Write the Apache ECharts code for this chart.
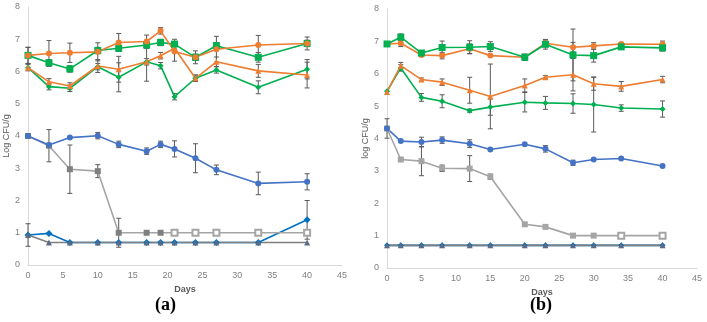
<!DOCTYPE html>
<html>
<head>
<meta charset="utf-8">
<script src="https://cdn.jsdelivr.net/npm/echarts@6/dist/echarts.min.js"></script>
<style>
  html, body { margin: 0; padding: 0; background: #fff; }
  #main { width: 707px; height: 322px; }
</style>
</head>
<body>
<div id="main"></div>
<script>
// sampling days
const daysA = [0, 3, 6, 10, 13, 17, 19, 21, 24, 27, 33, 40]
const daysB = [0, 2, 5, 8, 12, 15, 20, 23, 27, 30, 34, 40]
const yTicks = [0, 1, 2, 3, 4, 5, 6, 7, 8]
const xTicks = [0, 5, 10, 15, 20, 25, 30, 35, 40, 45]

// panel (a) values, log CFU/g
const orangeCircA = [6.5, 6.56, 6.58, 6.61, 6.9, 6.93, 7.26, 6.62, 6.44, 6.69, 6.82, 6.87]
const greenSqA = [6.5, 6.27, 6.08, 6.65, 6.72, 6.82, 6.9, 6.85, 6.44, 6.8, 6.44, 6.87]
const orangeTriA = [6.12, 5.68, 5.55, 6.17, 6.07, 6.3, 6.49, 6.72, 5.79, 6.3, 6.02, 5.89]
const greenStarA = [6.12, 5.53, 5.48, 6.15, 5.82, 6.3, 6.18, 5.22, 5.79, 6.05, 5.51, 6.07]
const blueA = [4.0, 3.72, 3.95, 4.01, 3.74, 3.53, 3.74, 3.6, 3.31, 2.95, 2.53, 2.58]
const grayA = [4.0, 3.7, 2.97, 2.91, 1.0, 1.0, 1.0, 1.0, 1.0, 1.0, 1.0, 1.0]
const brightBlueA = [0.93, 0.98, 0.7, 0.7, 0.7, 0.7, 0.7, 0.7, 0.7, 0.7, 0.7, 1.4]
const grayTriA = [0.93, 0.7, 0.7, 0.7, 0.7, 0.7, 0.7, 0.7, 0.7, 0.7, 0.7, 0.7]

// panel (a) error half widths
const orangeCircAErr = [0.25, 0.4, 0.3, 0.28, 0.28, 0.2, 0.1, 0.3, 0.2, 0.4, 0.3, 0.2]
const greenSqAErr = [0.25, 0.1, 0.1, 0.1, 0.1, 0.1, 0.1, 0.15, 0.1, 0.1, 0.15, 0.1]
const orangeTriAErr = [0.1, 0.1, 0.1, 0.2, 0.4, 0.6, 0.1, 0.1, 0.1, 0.15, 0.2, 0.4]
const greenStarAErr = [0, 0.1, 0.1, 0.1, 0.45, 0.1, 0.1, 0.1, 0.1, 0.1, 0.2, 0.3]
const blueAErr = [0, 0, 0, 0.1, 0.1, 0.1, 0.1, 0.25, 0.45, 0.15, 0.35, 0.25]
const grayAErr = [0, 0.5, 0.75, 0.2, 0.45, 0, 0, 0, 0, 0, 0, 0]
const brightBlueAErr = [0.35, 0, 0, 0, 0, 0, 0, 0, 0, 0, 0, 0.6]

// panel (b) values
const orangeCircB = [6.92, 6.94, 6.58, 6.56, 6.77, 6.56, 6.51, 6.94, 6.82, 6.86, 6.92, 6.91]
const greenSqB = [6.92, 7.13, 6.64, 6.81, 6.82, 6.84, 6.51, 6.91, 6.58, 6.56, 6.83, 6.8]
const orangeTriB = [5.44, 6.25, 5.82, 5.74, 5.49, 5.3, 5.64, 5.89, 5.97, 5.69, 5.61, 5.82]
const greenStarB = [5.46, 6.18, 5.27, 5.15, 4.86, 4.97, 5.12, 5.1, 5.08, 5.05, 4.94, 4.91]
const blueB = [4.31, 3.92, 3.89, 3.95, 3.84, 3.66, 3.82, 3.68, 3.25, 3.35, 3.38, 3.15]
const grayB = [4.31, 3.35, 3.3, 3.08, 3.07, 2.82, 1.35, 1.27, 1.0, 1.0, 1.0, 1.0]
const brightBlueB = [0.7, 0.7, 0.7, 0.7, 0.7, 0.7, 0.7, 0.7, 0.7, 0.7, 0.7, 0.7]
const grayTriB = [0.7, 0.7, 0.7, 0.7, 0.7, 0.7, 0.7, 0.7, 0.7, 0.7, 0.7, 0.7]

// panel (b) error half widths
const orangeCircBErr = [0, 0.1, 0, 0.1, 0.15, 0, 0, 0.1, 0.15, 0.1, 0.05, 0.1]
const greenSqBErr = [0, 0.1, 0.07, 0.2, 0.2, 0.15, 0.1, 0.15, 0.8, 0.2, 0.05, 0.1]
const orangeTriBErr = [0, 0.1, 0.05, 0.1, 0.4, 1.0, 0.2, 0.05, 0.5, 0.2, 0.15, 0.1]
const greenStarBErr = [0, 0.1, 0.12, 0.2, 0.05, 0.25, 0.3, 0.2, 0.3, 0.85, 0.1, 0.25]
const blueBErr = [0, 0, 0.15, 0.1, 0.12, 0, 0, 0.1, 0.08, 0, 0, 0]
const grayBErr = [0.3, 0.05, 0.45, 0.1, 0.4, 0.08, 0, 0, 0, 0, 0, 0]

const ORANGE = '#ed7d31'
const GREEN = '#00b050'
const BLUE = '#4472c4'
const BRIGHT = '#0070c0'
const GRAY = '#a5a5a5'
const DARK = '#7f7f7f'
const TRI = '#5b6b84'

function line(idx, days, vals, color, symbol, size, opts) {
  opts = opts || {}
  return {
    type: 'line',
    xAxisIndex: idx,
    yAxisIndex: idx,
    data: days.map((d, i) => {
      const p = { value: [d, vals[i]] }
      if (opts.emptyFrom !== undefined && i >= opts.emptyFrom) {
        p.symbol = 'emptyRect'
        p.itemStyle = { color: GRAY, borderColor: GRAY }
      }
      return p
    }),
    symbol: symbol,
    symbolSize: size,
    lineStyle: { color: opts.lineColor || color, width: 1.6 },
    itemStyle: { color: color, borderWidth: 1 },
    animation: false,
    z: opts.z || 3
  }
}

function errBars(idx, days, vals, errs) {
  const data = []
  days.forEach((d, i) => {
    if (errs[i] > 0) data.push([d, vals[i] - errs[i], vals[i] + errs[i]])
  })
  return {
    type: 'custom',
    xAxisIndex: idx,
    yAxisIndex: idx,
    data: data,
    animation: false,
    z: 2,
    renderItem: function (params, api) {
      const lo = api.coord([api.value(0), api.value(1)])
      const hi = api.coord([api.value(0), api.value(2)])
      const w = 2.5
      const st = { stroke: '#595959', lineWidth: 1 }
      return {
        type: 'group',
        children: [
          { type: 'line', shape: { x1: lo[0], y1: lo[1], x2: hi[0], y2: hi[1] }, style: st },
          { type: 'line', shape: { x1: lo[0] - w, y1: lo[1], x2: lo[0] + w, y2: lo[1] }, style: st },
          { type: 'line', shape: { x1: hi[0] - w, y1: hi[1], x2: hi[0] + w, y2: hi[1] }, style: st }
        ]
      }
    }
  }
}

function xAxis(idx) {
  return {
    type: 'value', gridIndex: idx, min: 0, max: 45, interval: 5,
    name: 'Days', nameLocation: 'middle', nameGap: 16,
    nameTextStyle: { fontSize: 9, fontWeight: 'bold', color: '#595959', fontFamily: 'Liberation Sans' },
    axisLine: { lineStyle: { color: '#d9d9d9' } },
    axisTick: { show: false },
    splitLine: { show: false },
    axisLabel: { fontSize: 9, color: '#7f7f7f', margin: 6, fontFamily: 'Liberation Sans' }
  }
}

function yAxis(idx, name) {
  return {
    type: 'value', gridIndex: idx, min: 0, max: 8, interval: 1,
    name: name, nameLocation: 'middle', nameGap: 15,
    nameTextStyle: { fontSize: 9, color: '#595959', fontFamily: 'Liberation Sans' },
    axisLine: { show: true, lineStyle: { color: '#d9d9d9' } },
    axisTick: { show: false },
    splitLine: { show: false },
    axisLabel: { fontSize: 9, color: '#7f7f7f', margin: 8, fontFamily: 'Liberation Sans' }
  }
}

const chart = echarts.init(document.getElementById('main'))
chart.setOption({
  backgroundColor: '#fff',
  grid: [
    { left: 28, top: 7, width: 314, height: 258 },
    { left: 387, top: 9, width: 310, height: 259 }
  ],
  xAxis: [xAxis(0), xAxis(1)],
  yAxis: [yAxis(0, 'Log CFU/g'), yAxis(1, 'log CFU/g')],
  graphic: [
    { type: 'text', left: 155, top: 296, style: { text: '(a)', fontSize: 18, fontWeight: 'bold', fontFamily: 'Liberation Serif', fill: '#000' } },
    { type: 'text', left: 530, top: 296, style: { text: '(b)', fontSize: 18, fontWeight: 'bold', fontFamily: 'Liberation Serif', fill: '#000' } }
  ],
  series: [
    errBars(0, daysA, orangeCircA, orangeCircAErr),
    errBars(0, daysA, greenSqA, greenSqAErr),
    errBars(0, daysA, orangeTriA, orangeTriAErr),
    errBars(0, daysA, greenStarA, greenStarAErr),
    errBars(0, daysA, blueA, blueAErr),
    errBars(0, daysA, grayA, grayAErr),
    errBars(0, daysA, brightBlueA, brightBlueAErr),
    line(0, daysA, brightBlueA, BRIGHT, 'diamond', 7),
    line(0, daysA, grayTriA, TRI, 'triangle', 6, { lineColor: DARK }),
    line(0, daysA, grayA, DARK, 'rect', 6, { lineColor: GRAY, emptyFrom: 7 }),
    line(0, daysA, blueA, BLUE, 'circle', 6),
    line(0, daysA, greenStarA, GREEN, 'diamond', 6),
    line(0, daysA, orangeTriA, ORANGE, 'triangle', 6),
    line(0, daysA, greenSqA, GREEN, 'rect', 7),
    line(0, daysA, orangeCircA, ORANGE, 'circle', 6),

    errBars(1, daysB, orangeCircB, orangeCircBErr),
    errBars(1, daysB, greenSqB, greenSqBErr),
    errBars(1, daysB, orangeTriB, orangeTriBErr),
    errBars(1, daysB, greenStarB, greenStarBErr),
    errBars(1, daysB, blueB, blueBErr),
    errBars(1, daysB, grayB, grayBErr),
    line(1, daysB, brightBlueB, BRIGHT, 'diamond', 6),
    line(1, daysB, grayTriB, TRI, 'triangle', 6, { lineColor: DARK }),
    line(1, daysB, grayB, GRAY, 'rect', 6, { emptyFrom: 10 }),
    line(1, daysB, blueB, BLUE, 'circle', 6),
    line(1, daysB, greenStarB, GREEN, 'diamond', 6),
    line(1, daysB, orangeTriB, ORANGE, 'triangle', 6),
    line(1, daysB, orangeCircB, ORANGE, 'circle', 6),
    line(1, daysB, greenSqB, GREEN, 'rect', 7)
  ]
})
</script>
</body>
</html>
